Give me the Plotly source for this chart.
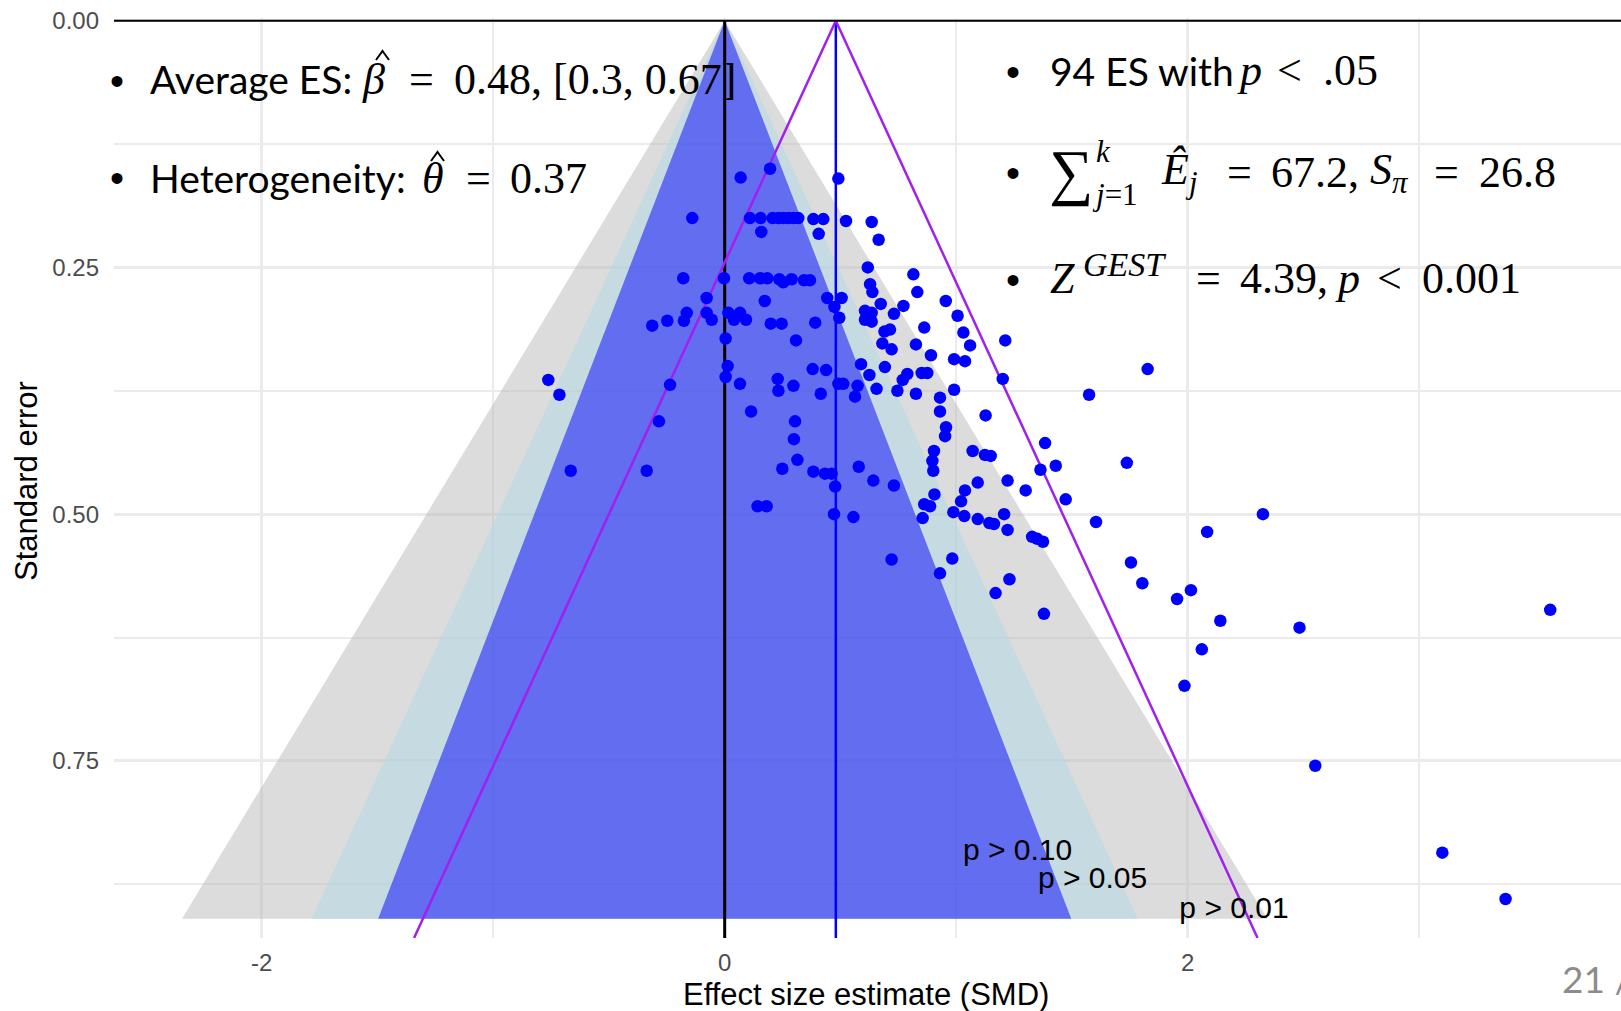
import plotly.graph_objects as go

# ---------------- data ----------------
effect_size = [
    0.069, 0.196, 0.491, -0.140,
    0.109, 0.155, 0.207, 0.232, 0.253, 0.275, 0.297, 0.318,
    0.383, 0.426, 0.524, 0.635, 0.158, 0.406, 0.665,
    -0.179, -0.003, 0.106, 0.153, 0.184, 0.236, 0.253, 0.289, 0.343, 0.368,
    0.618, 0.815, 0.628, 0.638, 0.832, -0.078, 0.173, 0.443, 0.505, 0.674, 0.772, 0.955, 0.474, 0.495,
    0.606, 0.635, 0.606, 0.635,
    0.731, 1.006, -0.313, -0.248,
    -0.176, -0.164, -0.078, -0.056,
    0.016, 0.040, 0.066, 0.092,
    0.199, 0.246, 0.391, 0.004, 0.308,
    0.690, 0.714, 0.862, 0.681, 0.721, 0.826, 1.031, 1.060, 1.212, 0.891, 0.991, 1.038, 0.589, 0.692,
    0.013, 0.004, 0.380, 0.438, 0.789, 0.769, 0.851, 0.875, 0.625, 1.201, -0.762, -0.714, -0.236,
    0.066, 0.229, 0.232, 0.297, 0.491, 0.512, 0.574, 0.656, 0.746, 0.826, 0.991, 0.415, 0.563, 0.930,
    0.114, -0.284, 0.304, 0.930, 1.127, 0.956, 0.952, 0.299, 0.904, 0.897, 0.901, 1.071, 1.124, 1.149,
    0.314, -0.665, -0.337, 0.249, 0.383, 0.433, 0.462, 0.579, 0.477, 0.642, 0.731, 1.093, 1.222, 1.300,
    1.038, 0.906, 1.021, 0.862, 0.887, 0.855, 0.142, 0.181, 0.472, 0.556, 0.988, 1.035, 1.093, 1.143,
    1.163, 1.207, 1.222, 1.328, 1.350, 1.375, 0.721, 0.983, 0.930, 1.230, 1.170,
    1.574, 1.384, 1.364, 1.430, 1.737, 1.473, 1.604, 2.325, 2.084, 1.755, 1.804, 1.954, 2.014, 1.379,
    2.141, 2.483, 3.566, 2.061, 1.986, 2.551, 3.100, 3.373, 1.827,
]
std_error = [
    0.159, 0.150, 0.160, 0.200,
    0.200, 0.200, 0.200, 0.200, 0.200, 0.200, 0.200, 0.200,
    0.201, 0.201, 0.203, 0.204, 0.214, 0.216, 0.222,
    0.261, 0.261, 0.261, 0.261, 0.261, 0.262, 0.265, 0.262, 0.263, 0.263,
    0.250, 0.257, 0.267, 0.275, 0.275, 0.281, 0.284, 0.281, 0.281, 0.287, 0.289, 0.284, 0.290, 0.301,
    0.294, 0.296, 0.303, 0.305,
    0.297, 0.299, 0.309, 0.304,
    0.304, 0.296, 0.296, 0.303,
    0.296, 0.303, 0.296, 0.303,
    0.307, 0.307, 0.306, 0.322, 0.324,
    0.315, 0.313, 0.311, 0.327, 0.333, 0.328, 0.316, 0.329, 0.324, 0.339, 0.343, 0.345, 0.348, 0.351,
    0.350, 0.361, 0.353, 0.354, 0.358, 0.364, 0.357, 0.357, 0.359, 0.363, 0.364, 0.379, 0.369,
    0.368, 0.363, 0.375, 0.370, 0.368, 0.368, 0.370, 0.373, 0.375, 0.378, 0.374, 0.378, 0.381, 0.382,
    0.396, 0.406, 0.406, 0.396, 0.400, 0.412, 0.421, 0.424, 0.436, 0.446, 0.456, 0.436, 0.440, 0.441,
    0.445, 0.456, 0.456, 0.454, 0.457, 0.459, 0.459, 0.452, 0.472, 0.466, 0.471, 0.468, 0.466, 0.476,
    0.476, 0.480, 0.487, 0.490, 0.492, 0.504, 0.492, 0.492, 0.500, 0.503, 0.498, 0.502, 0.505, 0.509,
    0.510, 0.500, 0.516, 0.523, 0.525, 0.528, 0.546, 0.545, 0.560, 0.566, 0.580,
    0.379, 0.428, 0.455, 0.451, 0.448, 0.485, 0.508, 0.500, 0.518, 0.549, 0.570, 0.586, 0.577, 0.601,
    0.608, 0.615, 0.597, 0.637, 0.674, 0.755, 0.843, 0.890, 0.353,
]

mean_es = 0.48
funnel_levels = ["p > 0.01", "p > 0.05", "p > 0.10"]
funnel_z = [2.576, 1.96, 1.645]
funnel_label_x = [2.200, 1.589, 1.265]
funnel_label_se = [0.902, 0.871, 0.8425]
ci_z = 1.96
funnel_se_max = 0.91
panel_se_max = 0.9295

x_tick_vals = [-2, 0, 2]
x_tick_text = ["-2", "0", "2"]
x_minor_vals = [-1, 1, 3]
y_tick_vals = [0, 0.25, 0.5, 0.75]
y_tick_text = ["0.00", "0.25", "0.50", "0.75"]
y_minor_vals = [0.125, 0.375, 0.625, 0.875]

# ---------------- layout geometry (pixels) ----------------
W, H = 1621, 1011
L, R, T, B = 114, 0, 18, 73
PW, PH = W - L - R, H - T - B


def px(X):
    return (X - L) / PW


def py(Y):
    return (H - B - Y) / PH


fill_colors = ["rgba(185,185,185,0.5)", "rgba(173,216,230,0.5)", "rgba(0,0,255,0.5)"]

fig = go.Figure()

for z, col in zip(funnel_z, fill_colors):
    fig.add_trace(go.Scatter(
        x=[0, -z * funnel_se_max, z * funnel_se_max, 0],
        y=[0, funnel_se_max, funnel_se_max, 0],
        mode="lines", fill="toself", fillcolor=col,
        line=dict(width=0), hoverinfo="skip", showlegend=False))

# reference lines
fig.add_trace(go.Scatter(x=[0, 0], y=[0, panel_se_max], mode="lines",
                         line=dict(color="black", width=3), showlegend=False))
fig.add_trace(go.Scatter(x=[mean_es, mean_es], y=[0, panel_se_max], mode="lines",
                         line=dict(color="#0000FF", width=2.5), showlegend=False))
fig.add_trace(go.Scatter(
    x=[mean_es - ci_z * panel_se_max, mean_es, mean_es + ci_z * panel_se_max],
    y=[panel_se_max, 0, panel_se_max], mode="lines",
    line=dict(color="#A020F0", width=2.5), showlegend=False))

# points
fig.add_trace(go.Scatter(x=effect_size, y=std_error, mode="markers",
                         marker=dict(color="#0000FF", size=12.5, line=dict(width=0)),
                         showlegend=False))

# significance labels
fig.add_trace(go.Scatter(x=funnel_label_x, y=funnel_label_se, mode="text",
                         text=funnel_levels,
                         textfont=dict(family="Liberation Sans, Arial", size=30, color="black"),
                         showlegend=False))

grid = "#EBEBEB"
fig.update_layout(
    width=W, height=H,
    margin=dict(l=L, r=R, t=T, b=B),
    paper_bgcolor="white", plot_bgcolor="white",
    showlegend=False,
    xaxis=dict(range=[(L - 724.7) / 231.5, (W - R - 724.7) / 231.5],
               tickvals=x_tick_vals, ticktext=x_tick_text,
               showgrid=True, gridcolor=grid, gridwidth=3, zeroline=False,
               showline=False, ticks="", ticklabelstandoff=8,
               tickfont=dict(family="Liberation Sans, Arial", size=24, color="#4D4D4D"),
               minor=dict(tickvals=x_minor_vals, showgrid=True, gridcolor=grid, gridwidth=2)),
    yaxis=dict(range=[panel_se_max, -(20.7 - T) / 986.7],
               tickvals=y_tick_vals, ticktext=y_tick_text,
               showgrid=True, gridcolor=grid, gridwidth=3, zeroline=False,
               showline=False, ticks="", ticklabelstandoff=14,
               tickfont=dict(family="Liberation Sans, Arial", size=24, color="#4D4D4D"),
               minor=dict(tickvals=y_minor_vals, showgrid=True, gridcolor=grid, gridwidth=2)),
)

# top horizontal line at SE = 0
fig.add_shape(type="line", xref="paper", yref="y", x0=0, x1=1, y0=0, y1=0,
              line=dict(color="black", width=2))

SERIF = "Liberation Serif"
MS = 44
TS = 39


def ann(text, X, Y, size=TS, family="Lato", xanchor="left", color="black", angle=0):
    if xanchor == "left":
        X = X - 2
    fig.add_annotation(text=text, x=px(X), y=py(Y), xref="paper", yref="paper",
                       xanchor=xanchor, yanchor="middle", showarrow=False,
                       textangle=angle,
                       font=dict(family=family, size=size, color=color))


def m(text, X, Y, size=MS, xanchor="left"):
    ann(text, X, Y, size=size, family=SERIF, xanchor=xanchor)


def hat(x0, x1, ytop, ybot):
    xm = (x0 + x1) / 2
    fig.add_shape(type="path", xref="paper", yref="paper",
                  path=f"M {px(x0)},{py(ybot)} L {px(xm)},{py(ytop)} L {px(x1)},{py(ybot)}",
                  line=dict(color="black", width=2))


# bullets
for bx, by in [(116.5, 81), (116.5, 178), (1013, 72), (1013, 173), (1013, 280)]:
    ann("•", bx, by, size=40, family="Liberation Sans", xanchor="center")

# line 1: Average ES
ann("Average ES:", 149.5, 79)
m("<i>β</i>", 362, 79)
hat(376, 389, 51, 60)
m("=", 421.7, 79, xanchor="center")
m("0.48, [0.3, 0.67]", 454, 79)

# line 2: Heterogeneity
ann("Heterogeneity:", 149.5, 178)
m("<i>θ</i>", 422, 178)
hat(431, 444, 152, 161)
m("=", 478, 178, xanchor="center")
m("0.37", 510, 178)

# right 1
ann("94 ES with", 1050, 71)
m("<i>p</i>", 1237, 71)
m("&lt;", 1289.5, 71, xanchor="center")
m(".05", 1323, 71)

# right 2: sum
m("∑", 1049, 172, size=62)
m("<i>k</i>", 1096, 151, size=31)
m("<i>j</i>=1", 1092, 194, size=31)
m("<i>Ê<sub>j</sub></i>", 1161, 173)
m("=", 1239.5, 173, xanchor="center")
m("67.2,", 1271, 173)
m("<i>S<sub>π</sub></i>", 1370, 173)
m("=", 1446.5, 173, xanchor="center")
m("26.8", 1479, 173)

# right 3: Z
m("<i>Z</i>", 1050, 278)
m("<i>GEST</i>", 1083, 264, size=34)
m("=", 1208, 278, xanchor="center")
m("4.39,", 1240, 278)
m("<i>p</i>", 1335, 278)
m("&lt;", 1389, 278, xanchor="center")
m("0.001", 1422, 278)

# axis titles
ann("Standard error", 26, 481, size=31, family="Liberation Sans, Arial", xanchor="center", angle=-90)
ann("Effect size estimate (SMD)", 866, 994, size=31, family="Liberation Sans, Arial", xanchor="center")

# slide page number
ann("21 /", 1562, 979, size=37, family="Lato", color="#8C8C8C")

fig.write_html("out.html")
